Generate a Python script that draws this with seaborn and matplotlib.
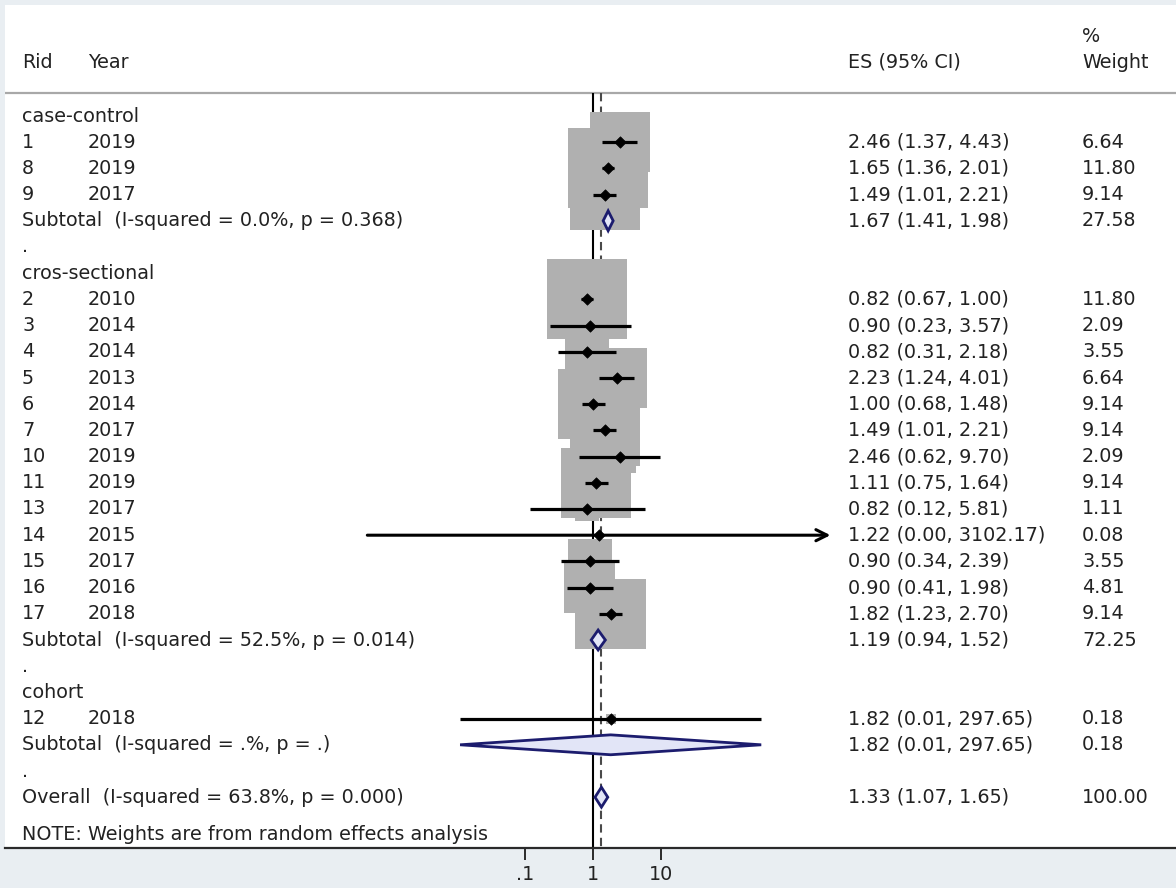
import numpy as np
import pandas as pd
import matplotlib
matplotlib.use("Agg")
import matplotlib.pyplot as plt
from matplotlib.ticker import NullLocator
import seaborn as sns

# ---- study-level data, grouped by design ----
study_group = ["case-control"] * 3 + ["cros-sectional"] * 13 + ["cohort"]
study_id = ["1", "8", "9",
            "2", "3", "4", "5", "6", "7", "10", "11", "13", "14", "15", "16", "17",
            "12"]
study_year = ["2019", "2019", "2017",
              "2010", "2014", "2014", "2013", "2014", "2017", "2019", "2019", "2017",
              "2015", "2017", "2016", "2018",
              "2018"]
study_es = [2.46, 1.65, 1.49,
            0.82, 0.90, 0.82, 2.23, 1.00, 1.49, 2.46, 1.11, 0.82, 1.22, 0.90, 0.90, 1.82,
            1.82]
study_lo = [1.37, 1.36, 1.01,
            0.67, 0.23, 0.31, 1.24, 0.68, 1.01, 0.62, 0.75, 0.12, 0.00048, 0.34, 0.41, 1.23,
            0.0111]
study_hi = [4.43, 2.01, 2.21,
            1.00, 3.57, 2.18, 4.01, 1.48, 2.21, 9.70, 1.64, 5.81, 3102.17, 2.39, 1.98, 2.70,
            297.65]
study_wt = [6.64, 11.80, 9.14,
            11.80, 2.09, 3.55, 6.64, 9.14, 9.14, 2.09, 9.14, 1.11, 0.08, 3.55, 4.81, 9.14,
            0.18]

# ---- pooled estimates per design ----
group_names = ["case-control", "cros-sectional", "cohort"]
sub_label = ["Subtotal  (I-squared = 0.0%, p = 0.368)",
             "Subtotal  (I-squared = 52.5%, p = 0.014)",
             "Subtotal  (I-squared = .%, p = .)"]
sub_es = [1.67, 1.19, 1.82]
sub_lo = [1.41, 0.94, 0.0111]
sub_hi = [1.98, 1.52, 297.65]
sub_wt = [27.58, 72.25, 0.18]

overall_label = "Overall  (I-squared = 63.8%, p = 0.000)"
overall_es, overall_lo, overall_hi, overall_wt = 1.33, 1.07, 1.65, 100.00

note_text = "NOTE: Weights are from random effects analysis"
tick_values = [0.1, 1, 10]
tick_labels = [".1", "1", "10"]

# ---- styling ----
TXT = "#222222"
FS = 13.8
plt.rcParams["font.family"] = ["DejaVu Sans"]
plt.rcParams["font.size"] = FS

df = pd.DataFrame({"group": study_group, "rid": study_id, "year": study_year,
                   "es": study_es, "lo": study_lo, "hi": study_hi, "wt": study_wt})

# assign a row to every line of the table
rows_text = []          # (row, col0, col1)
study_rows = []
sub_rows = []
row = 0
for g, name in enumerate(group_names):
    rows_text.append((row, name, ""))
    row += 1
    for i in df.index[df.group == name]:
        study_rows.append(row)
        rows_text.append((row, df.rid[i], df.year[i]))
        row += 1
    sub_rows.append(row)
    rows_text.append((row, sub_label[g], ""))
    row += 1
    rows_text.append((row, ".", ""))
    row += 1
overall_row = row
rows_text.append((overall_row, overall_label, ""))
df["row"] = study_rows

W, H = 1176, 888
fig = plt.figure(figsize=(W / 100, H / 100), dpi=100, facecolor="#e9eef2")
# plotting region in pixels: x 5..1176, y 5..848
ax = fig.add_axes([5 / W, (H - 848) / H, 1171 / W, 843 / H])
ax.set_facecolor("white")

# horizontal scale: log10, one decade = 68 px, 1 at x=593 px
ax.set_xscale("log")
ax.set_xlim(10 ** ((5 - 593) / 68), 10 ** ((1176 - 593) / 68))
# vertical scale: rows 26.2 px apart, row 0 at y=116 px
ax.set_ylim((848 - 116) / 26.2, (5 - 116) / 26.2)
top_rule = (93 - 116) / 26.2
y_bottom = (848 - 116) / 26.2

# header rule
ax.axhline(top_rule, color="#a8a8a8", lw=1.6, zorder=1)

# null line and overall effect line
ax.vlines(1, top_rule, y_bottom, color="black", lw=1.5, zorder=1)
ax.vlines(overall_es, top_rule, y_bottom, color="#4a4a4a", lw=1.5,
          linestyles=(0, (4, 2.5)), zorder=1)

# weight boxes (area proportional to weight)
sns.scatterplot(data=df, x="es", y="row", s=df["wt"] * 281.0, marker="s",
                color="#b0b0b0", edgecolor="none", linewidth=0, legend=False,
                ax=ax, zorder=2)

# confidence intervals
CLIP_HI = 1000
for _, r in df.iterrows():
    if r.hi > CLIP_HI:
        ax.annotate("", xy=(r.hi, r.row), xytext=(r.lo, r.row),
                    arrowprops=dict(arrowstyle="->", lw=2.2, color="black",
                                    mutation_scale=20, shrinkA=0, shrinkB=0),
                    zorder=3)
    else:
        ax.hlines(r.row, r.lo, r.hi, color="black", lw=2.3, zorder=3)

# point estimates
sns.scatterplot(data=df, x="es", y="row", marker="D", s=34, color="black",
                edgecolor="black", linewidth=0.5, legend=False, ax=ax, zorder=4)


def diamond(es, lo, hi, y):
    h = 0.38
    ax.fill([lo, es, hi, es, lo], [y, y - h, y, y + h, y],
            facecolor="#e2e5f7", edgecolor="#1c1c6e", lw=2.0, zorder=4,
            joinstyle="miter")


for g in range(len(group_names)):
    diamond(sub_es[g], sub_lo[g], sub_hi[g], sub_rows[g])
diamond(overall_es, overall_lo, overall_hi, overall_row)

# ---- text columns ----
tr = ax.get_yaxis_transform()


def px(x):
    return (x - 5) / 1171


X_RID, X_YEAR, X_ES, X_WT = px(22), px(88), px(848), px(1082)
hdr = (62 - 116) / 26.2
pct = (37 - 116) / 26.2
ax.text(X_RID, hdr, "Rid", transform=tr, va="center", ha="left", color=TXT)
ax.text(X_YEAR, hdr, "Year", transform=tr, va="center", ha="left", color=TXT)
ax.text(X_ES, hdr, "ES (95% CI)", transform=tr, va="center", ha="left", color=TXT)
ax.text(X_WT, pct, "%", transform=tr, va="center", ha="left", color=TXT)
ax.text(X_WT, hdr, "Weight", transform=tr, va="center", ha="left", color=TXT)

for r, c0, c1 in rows_text:
    ax.text(X_RID, r, c0, transform=tr, va="center", ha="left", color=TXT)
    if c1:
        ax.text(X_YEAR, r, c1, transform=tr, va="center", ha="left", color=TXT)


def es_text(e, l, h):
    return f"{e:.2f} ({l:.2f}, {h:.2f})"


for _, r in df.iterrows():
    ax.text(X_ES, r.row, es_text(r.es, r.lo, r.hi), transform=tr, va="center",
            ha="left", color=TXT)
    ax.text(X_WT, r.row, f"{r.wt:.2f}", transform=tr, va="center", ha="left",
            color=TXT)
for g in range(len(group_names)):
    ax.text(X_ES, sub_rows[g], es_text(sub_es[g], sub_lo[g], sub_hi[g]),
            transform=tr, va="center", ha="left", color=TXT)
    ax.text(X_WT, sub_rows[g], f"{sub_wt[g]:.2f}", transform=tr, va="center",
            ha="left", color=TXT)
ax.text(X_ES, overall_row, es_text(overall_es, overall_lo, overall_hi),
        transform=tr, va="center", ha="left", color=TXT)
ax.text(X_WT, overall_row, f"{overall_wt:.2f}", transform=tr, va="center",
        ha="left", color=TXT)

ax.text(X_RID, (834 - 116) / 26.2, note_text, transform=tr, va="center",
        ha="left", color=TXT)

# ---- axes decoration ----
for side in ["top", "left", "right"]:
    ax.spines[side].set_visible(False)
ax.spines["bottom"].set_color("#2a2a2a")
ax.spines["bottom"].set_linewidth(1.6)
ax.set_yticks([])
ax.set_xticks(tick_values)
ax.set_xticklabels(tick_labels)
ax.xaxis.set_minor_locator(NullLocator())
ax.tick_params(axis="x", length=8.5, width=1.4, pad=4, labelsize=FS,
               colors="#2a2a2a", labelcolor=TXT)
ax.set_xlabel("")
ax.set_ylabel("")

fig.savefig("out.png", dpi=100, facecolor=fig.get_facecolor())
